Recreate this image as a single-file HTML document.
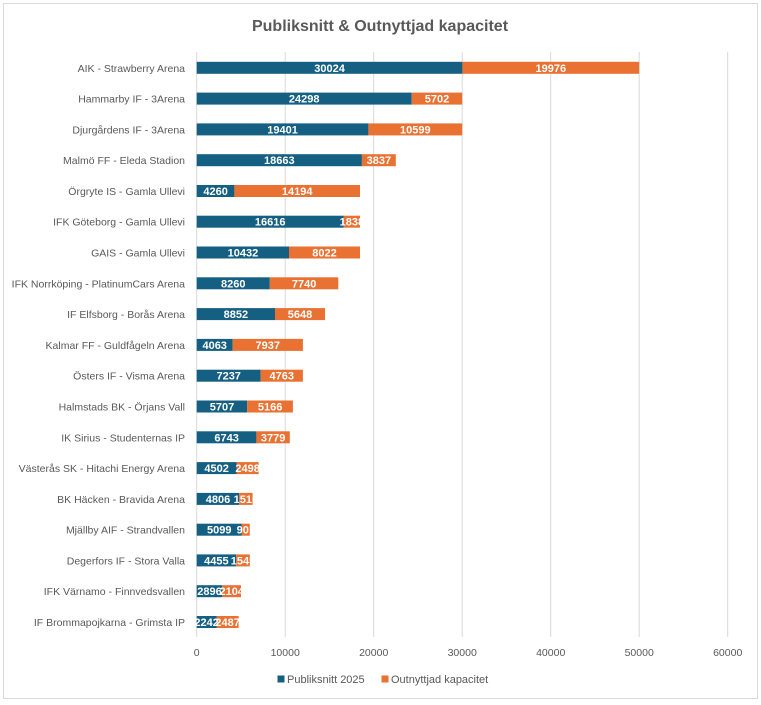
<!DOCTYPE html>
<html><head><meta charset="utf-8"><style>
html,body{margin:0;padding:0;background:#fff;}
svg{display:block;}
text{font-family:"Liberation Sans",Arial,sans-serif;}
.cat{font-size:10.5px;fill:#595959;text-anchor:end;}
.dl{font-size:11px;font-weight:bold;fill:#fff;text-anchor:middle;}
.tk{font-size:10.5px;fill:#595959;text-anchor:middle;}
.lg{font-size:11px;fill:#595959;}
</style></head><body>
<svg width="761" height="705" viewBox="0 0 761 705" xmlns="http://www.w3.org/2000/svg">
<rect x="0" y="0" width="761" height="705" fill="#fff"/>
<rect x="3.5" y="3.5" width="754" height="695" fill="#fff" stroke="#d9d9d9" stroke-width="1"/>
<text x="380" y="31" text-anchor="middle" style="font-size:16px;font-weight:bold;fill:#595959">Publiksnitt &amp; Outnyttjad kapacitet</text>
<g stroke="#d9d9d9" stroke-width="1">
<line x1="196.7" y1="52" x2="196.7" y2="637"/>
<line x1="285.2" y1="52" x2="285.2" y2="637"/>
<line x1="373.7" y1="52" x2="373.7" y2="637"/>
<line x1="462.2" y1="52" x2="462.2" y2="637"/>
<line x1="550.7" y1="52" x2="550.7" y2="637"/>
<line x1="639.2" y1="52" x2="639.2" y2="637"/>
<line x1="727.7" y1="52" x2="727.7" y2="637"/>
</g>
<g>
<text class="tk" x="196.7" y="656">0</text>
<text class="tk" x="285.2" y="656">10000</text>
<text class="tk" x="373.7" y="656">20000</text>
<text class="tk" x="462.2" y="656">30000</text>
<text class="tk" x="550.7" y="656">40000</text>
<text class="tk" x="639.2" y="656">50000</text>
<text class="tk" x="727.7" y="656">60000</text>
</g>

<g transform="translate(0,67.8)">
<text class="cat" x="185" y="4">AIK - Strawberry Arena</text>
<rect x="196.7" y="-6" width="265.7" height="12" fill="#156082"/>
<rect x="462.4" y="-6" width="176.8" height="12" fill="#E97132"/>
<text class="dl" x="329.6" y="4">30024</text>
<text class="dl" x="550.8" y="4">19976</text>
</g>
<g transform="translate(0,98.6)">
<text class="cat" x="185" y="4">Hammarby IF - 3Arena</text>
<rect x="196.7" y="-6" width="215" height="12" fill="#156082"/>
<rect x="411.7" y="-6" width="50.5" height="12" fill="#E97132"/>
<text class="dl" x="304.2" y="4">24298</text>
<text class="dl" x="437" y="4">5702</text>
</g>
<g transform="translate(0,129.4)">
<text class="cat" x="185" y="4">Djurgårdens IF - 3Arena</text>
<rect x="196.7" y="-6" width="171.7" height="12" fill="#156082"/>
<rect x="368.4" y="-6" width="93.8" height="12" fill="#E97132"/>
<text class="dl" x="282.6" y="4">19401</text>
<text class="dl" x="415.3" y="4">10599</text>
</g>
<g transform="translate(0,160.2)">
<text class="cat" x="185" y="4">Malmö FF - Eleda Stadion</text>
<rect x="196.7" y="-6" width="165.2" height="12" fill="#156082"/>
<rect x="361.9" y="-6" width="33.9" height="12" fill="#E97132"/>
<text class="dl" x="279.3" y="4">18663</text>
<text class="dl" x="378.9" y="4">3837</text>
</g>
<g transform="translate(0,191)">
<text class="cat" x="185" y="4">Örgryte IS - Gamla Ullevi</text>
<rect x="196.7" y="-6" width="37.7" height="12" fill="#156082"/>
<rect x="234.4" y="-6" width="125.6" height="12" fill="#E97132"/>
<text class="dl" x="215.6" y="4">4260</text>
<text class="dl" x="297.2" y="4">14194</text>
</g>
<g transform="translate(0,221.7)">
<text class="cat" x="185" y="4">IFK Göteborg - Gamla Ullevi</text>
<rect x="196.7" y="-6" width="147.1" height="12" fill="#156082"/>
<rect x="343.8" y="-6" width="16.2" height="12" fill="#E97132"/>
<text class="dl" x="270.2" y="4">16616</text>
<text class="dl" x="351.9" y="4">1838</text>
</g>
<g transform="translate(0,252.5)">
<text class="cat" x="185" y="4">GAIS - Gamla Ullevi</text>
<rect x="196.7" y="-6" width="92.3" height="12" fill="#156082"/>
<rect x="289" y="-6" width="71" height="12" fill="#E97132"/>
<text class="dl" x="242.9" y="4">10432</text>
<text class="dl" x="324.5" y="4">8022</text>
</g>
<g transform="translate(0,283.3)">
<text class="cat" x="185" y="4">IFK Norrköping - PlatinumCars Arena</text>
<rect x="196.7" y="-6" width="73.1" height="12" fill="#156082"/>
<rect x="269.8" y="-6" width="68.5" height="12" fill="#E97132"/>
<text class="dl" x="233.3" y="4">8260</text>
<text class="dl" x="304.1" y="4">7740</text>
</g>
<g transform="translate(0,314.1)">
<text class="cat" x="185" y="4">IF Elfsborg - Borås Arena</text>
<rect x="196.7" y="-6" width="78.3" height="12" fill="#156082"/>
<rect x="275" y="-6" width="50" height="12" fill="#E97132"/>
<text class="dl" x="235.9" y="4">8852</text>
<text class="dl" x="300" y="4">5648</text>
</g>
<g transform="translate(0,344.9)">
<text class="cat" x="185" y="4">Kalmar FF - Guldfågeln Arena</text>
<rect x="196.7" y="-6" width="36" height="12" fill="#156082"/>
<rect x="232.7" y="-6" width="70.2" height="12" fill="#E97132"/>
<text class="dl" x="214.7" y="4">4063</text>
<text class="dl" x="267.8" y="4">7937</text>
</g>
<g transform="translate(0,375.7)">
<text class="cat" x="185" y="4">Östers IF - Visma Arena</text>
<rect x="196.7" y="-6" width="64" height="12" fill="#156082"/>
<rect x="260.7" y="-6" width="42.2" height="12" fill="#E97132"/>
<text class="dl" x="228.7" y="4">7237</text>
<text class="dl" x="281.8" y="4">4763</text>
</g>
<g transform="translate(0,406.5)">
<text class="cat" x="185" y="4">Halmstads BK - Örjans Vall</text>
<rect x="196.7" y="-6" width="50.5" height="12" fill="#156082"/>
<rect x="247.2" y="-6" width="45.7" height="12" fill="#E97132"/>
<text class="dl" x="222" y="4">5707</text>
<text class="dl" x="270.1" y="4">5166</text>
</g>
<g transform="translate(0,437.3)">
<text class="cat" x="185" y="4">IK Sirius - Studenternas IP</text>
<rect x="196.7" y="-6" width="59.7" height="12" fill="#156082"/>
<rect x="256.4" y="-6" width="33.4" height="12" fill="#E97132"/>
<text class="dl" x="226.6" y="4">6743</text>
<text class="dl" x="273.1" y="4">3779</text>
</g>
<g transform="translate(0,468.1)">
<text class="cat" x="185" y="4">Västerås SK - Hitachi Energy Arena</text>
<rect x="196.7" y="-6" width="39.8" height="12" fill="#156082"/>
<rect x="236.5" y="-6" width="22.2" height="12" fill="#E97132"/>
<text class="dl" x="216.6" y="4">4502</text>
<text class="dl" x="247.6" y="4">2498</text>
</g>
<g transform="translate(0,498.9)">
<text class="cat" x="185" y="4">BK Häcken - Bravida Arena</text>
<rect x="196.7" y="-6" width="42.5" height="12" fill="#156082"/>
<rect x="239.2" y="-6" width="13.4" height="12" fill="#E97132"/>
<text class="dl" x="218" y="4">4806</text>
<text class="dl" x="245.9" y="4">1510</text>
</g>
<g transform="translate(0,529.7)">
<text class="cat" x="185" y="4">Mjällby AIF - Strandvallen</text>
<rect x="196.7" y="-6" width="45.1" height="12" fill="#156082"/>
<rect x="241.8" y="-6" width="8" height="12" fill="#E97132"/>
<text class="dl" x="219.3" y="4">5099</text>
<text class="dl" x="245.8" y="4">901</text>
</g>
<g transform="translate(0,560.4)">
<text class="cat" x="185" y="4">Degerfors IF - Stora Valla</text>
<rect x="196.7" y="-6" width="39.4" height="12" fill="#156082"/>
<rect x="236.1" y="-6" width="13.7" height="12" fill="#E97132"/>
<text class="dl" x="216.4" y="4">4455</text>
<text class="dl" x="243" y="4">1545</text>
</g>
<g transform="translate(0,591.2)">
<text class="cat" x="185" y="4">IFK Värnamo - Finnvedsvallen</text>
<rect x="196.7" y="-6" width="25.6" height="12" fill="#156082"/>
<rect x="222.3" y="-6" width="18.7" height="12" fill="#E97132"/>
<text class="dl" x="209.5" y="4">2896</text>
<text class="dl" x="231.7" y="4">2104</text>
</g>
<g transform="translate(0,622)">
<text class="cat" x="185" y="4">IF Brommapojkarna - Grimsta IP</text>
<rect x="196.7" y="-6" width="19.8" height="12" fill="#156082"/>
<rect x="216.5" y="-6" width="22.1" height="12" fill="#E97132"/>
<text class="dl" x="206.6" y="4">2242</text>
<text class="dl" x="227.6" y="4">2487</text>
</g>

<rect x="277.5" y="675.5" width="7" height="7" fill="#156082"/>
<text class="lg" x="287" y="683">Publiksnitt 2025</text>
<rect x="381.5" y="675.5" width="7" height="7" fill="#E97132"/>
<text class="lg" x="391" y="683">Outnyttjad kapacitet</text>
</svg>
</body></html>
